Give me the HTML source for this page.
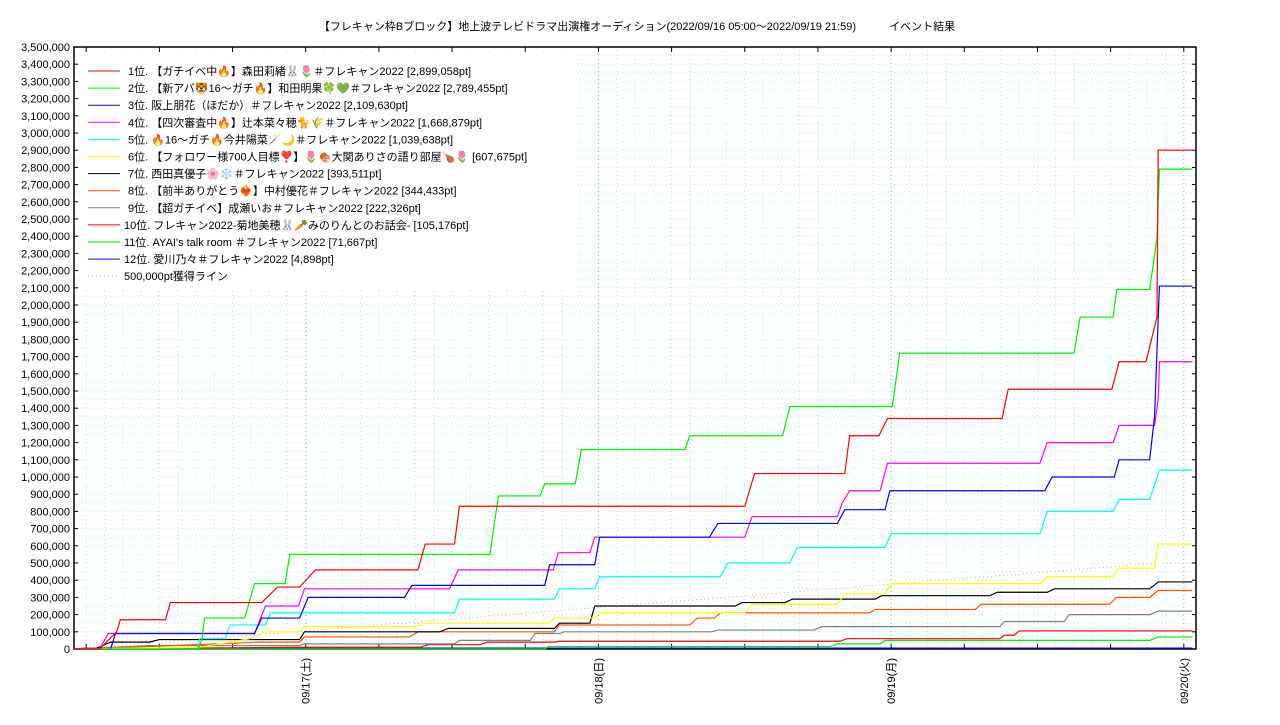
<!DOCTYPE html>
<html><head><meta charset="utf-8"><style>
body{margin:0;background:#fff;width:1280px;height:720px;overflow:hidden;font-family:"Liberation Sans","Noto Sans CJK JP",sans-serif}
svg text{font-family:"Liberation Sans","Noto Sans CJK JP",sans-serif}
</style></head><body>
<svg id="chart" width="1280" height="720" xmlns="http://www.w3.org/2000/svg"></svg>
<script>
// hours since 09/16 05:00, values in thousands of points
const seriesNames=["1位. 【ガチイベ中🔥】森田莉緒🐰🌷＃フレキャン2022 [2,899,058pt]","2位. 【新アバ🐯16〜ガチ🔥】和田明果🍀💚＃フレキャン2022 [2,789,455pt]","3位. 阪上朋花（ほだか）＃フレキャン2022 [2,109,630pt]","4位. 【四次審査中🔥】辻本菜々穂🐈🌾＃フレキャン2022 [1,668,879pt]","5位. 🔥16〜ガチ🔥今井陽菜🪄🌙＃フレキャン2022 [1,039,638pt]","6位. 【フォロワー様700人目標❣️】🌷🍖大関ありさの語り部屋🍗🌷 [607,675pt]","7位. 西田真優子🌸❄️＃フレキャン2022 [393,511pt]","8位. 【前半ありがとう❤️‍🔥】中村優花＃フレキャン2022 [344,433pt]","9位. 【超ガチイベ】成瀬いお＃フレキャン2022 [222,326pt]","10位. フレキャン2022-菊地美穂🐰🥕みのりんとのお話会- [105,176pt]","11位. AYAI's talk room ＃フレキャン2022 [71,667pt]","12位. 愛川乃々＃フレキャン2022 [4,898pt]"];
const seriesColors=["#ff0000","#00ee00","#0000ff","#ff00ff","#00ffff","#ffff00","#000000","#ff5000","#808080","#ff0000","#00ee00","#0000ff"];
const s1H=[0,2.1,3.5,3.8,7.5,7.9,15.4,16.7,18.5,19.8,28.2,28.8,31.2,31.6,55,55.8,63.2,63.6,66,66.7,76.1,76.6,85.1,85.7,87.9,88.8,88.9,91.7];
const s1V=[0,0,100,170,170,270,270,360,360,460,460,610,610,830,830,1020,1020,1240,1240,1340,1340,1510,1510,1670,1670,1930,2900,2900];
const s2H=[0,10.2,10.5,10.7,14,14.8,17.3,17.7,34.1,34.8,38.2,38.6,41.1,41.6,50.1,50.5,58.1,58.7,67.1,67.7,82,82.5,85.2,85.5,88.2,88.8,89,91.7];
const s2V=[0,0,60,180,180,380,380,550,550,890,890,960,960,1160,1160,1240,1240,1410,1410,1720,1720,1930,1930,2090,2090,2390,2790,2790];
const s3H=[0,3,3.4,14.8,15.4,18.5,19.2,27.1,27.7,38.6,39,42.7,43.1,52.1,52.8,62.6,63.2,66.5,66.9,79.6,80.2,85.3,85.7,88.2,88.6,89,91.7];
const s3V=[0,0,90,90,180,180,300,300,370,370,490,490,650,650,730,730,810,810,920,920,1000,1000,1100,1100,1350,2110,2110];
const s4H=[0,2.1,2.8,14.8,15.7,18.4,18.9,30.8,31.5,39.3,39.7,42.3,42.7,55,55.6,62.6,63,63.6,66.1,66.7,79.2,79.8,85.2,85.7,88.6,88.9,89,91.7];
const s4V=[0,0,90,90,250,250,350,350,460,460,560,560,650,650,770,770,850,920,920,1080,1080,1200,1200,1300,1300,1450,1670,1670];
const s5H=[0,10.1,10.3,12.4,12.8,15.7,16.1,31.2,31.6,39.4,39.8,42.7,43.1,53,53.6,58.7,59.3,66.5,67,79.2,79.8,85.2,85.7,88.2,89,91.7];
const s5V=[0,0,60,60,140,140,210,210,290,290,350,350,420,420,500,500,590,590,670,670,800,800,870,870,1040,1040];
const s6H=[0,10.3,14.4,15.7,18.5,18.9,28,28.8,38.9,39.4,42.7,43.1,55,55.6,62.6,63.2,66.5,67,79.2,79.8,85.2,85.7,88.6,88.9,91.7];
const s6V=[0,10,60,100,100,130,130,150,150,180,180,210,210,260,260,320,320,380,380,420,420,470,470,610,610];
const s7H=[0,1.7,3,6.2,7,18.5,18.9,30,30.7,39.4,39.8,42.3,42.7,54.2,54.8,58.3,58.9,65.7,66.2,75.1,75.7,79.8,80.4,88.2,88.9,91.7];
const s7V=[0,0,40,40,55,55,100,100,120,120,150,150,250,250,270,270,290,290,310,310,330,330,350,350,390,390];
const s8H=[0,4.6,15.2,18.5,18.9,27.5,28.2,39.4,39.8,50.5,51.1,52.5,53,65.2,65.7,73.9,74.4,84.9,85.5,88.2,88.9,91.7];
const s8V=[0,10,40,40,70,70,100,100,140,140,180,180,210,210,230,230,260,260,300,300,340,340];
const s9H=[0,6.2,18.5,18.9,31.2,31.6,37.4,37.8,39.8,40.2,52.3,52.8,60.7,61.3,75.9,76.3,81.2,81.6,88.2,88.9,91.7];
const s9V=[0,20,20,30,30,50,50,90,90,100,100,110,110,130,130,160,160,200,200,220,220];
const s10H=[0,17.7,28.4,29,33.3,33.9,39.4,39.8,62.8,63.4,75.9,76.3,77.1,77.5,91.7];
const s10V=[0,10,10,25,25,40,40,45,45,60,60,80,80,105,105];
const s11H=[0,38.6,38.9,62,62.6,66.1,66.5,88.2,88.9,91.7];
const s11V=[0,0,15,15,30,30,50,50,70,70];
const s12H=[0,1,91.7];
const s12V=[0,5,5];
const lineH=[0,89,91.7];
const lineV=[0,500,500];
const yTicks=[0,100,200,300,400,500,600,700,800,900,1000,1100,1200,1300,1400,1500,1600,1700,1800,1900,2000,2100,2200,2300,2400,2500,2600,2700,2800,2900,3000,3100,3200,3300,3400,3500];
const xTickHours=[19,43,67,91];
const xTickLabels=["09/17(土)","09/18(日)","09/19(月)","09/20(火)"];

const NS="http://www.w3.org/2000/svg";
const svg=document.getElementById('chart');
const L=74,R=1196,T=47,B=649,HMAX=92,VMAX=3500;
const xs=h=>L+h/HMAX*(R-L);
const ys=v=>B-v/VMAX*(B-T);
function mk(tag,attrs,parent){const e=document.createElementNS(NS,tag);for(const k in attrs)e.setAttribute(k,attrs[k]);(parent||svg).appendChild(e);return e;}

const title=mk('text',{x:637,y:30,'font-size':11,'text-anchor':'middle',fill:'#000'});


title.textContent="【フレキャン枠Bブロック】地上波テレビドラマ出演権オーディション(2022/09/16 05:00〜2022/09/19 21:59)　　　イベント結果";

const grid=mk('g',{});


for(let v=50;v<VMAX;v+=50){mk('line',{x1:L,x2:R,y1:ys(v),y2:ys(v),stroke:'#aee',  'stroke-dasharray':'1,3','stroke-width':1},grid);}
for(let h=1;h<HMAX;h+=1.5){mk('line',{x1:xs(h),x2:xs(h),y1:T,y2:B,stroke:'#aee','stroke-dasharray':'1,3','stroke-width':1},grid);}
for(const h of xTickHours){mk('line',{x1:xs(h),x2:xs(h),y1:T,y2:B,stroke:'#7d7','stroke-dasharray':'1,3','stroke-width':1},grid);}

const frame=mk('rect',{x:L,y:T,width:R-L,height:B-T,fill:'none',stroke:'#000','stroke-width':1.5});



const yax=mk('g',{});


for(const t of yTicks){
  const y=ys(t);
  mk('line',{x1:L,x2:L+4,y1:y,y2:y,stroke:'#000'},yax);
  mk('line',{x1:R,x2:R-4,y1:y,y2:y,stroke:'#000'},yax);
  const tx=mk('text',{x:70,y:y+4,'font-size':11,'text-anchor':'end',fill:'#000'},yax);
  
  
  tx.textContent=(t*1000).toLocaleString('en-US');
}
const xax=mk('g',{});


for(let h=1;h<HMAX;h+=6){mk('line',{x1:xs(h),x2:xs(h),y1:B,y2:B-5,stroke:'#000'},xax);mk('line',{x1:xs(h),x2:xs(h),y1:T,y2:T+5,stroke:'#000'},xax);}
xTickHours.forEach((h,i)=>{
  const x=xs(h);
  const tx=mk('text',{x:0,y:0,'font-size':11,'text-anchor':'end',fill:'#000',transform:`translate(${x+4},658) rotate(-90)`},xax);
  
  
  tx.textContent=xTickLabels[i];
});

const allH=[s1H,s2H,s3H,s4H,s5H,s6H,s7H,s8H,s9H,s10H,s11H,s12H];
const allV=[s1V,s2V,s3V,s4V,s5V,s6V,s7V,s8V,s9V,s10V,s11V,s12V];
const pl=mk('polyline',{points:lineH.map((h,i)=>xs(h)+','+ys(lineV[i])).join(' '),fill:'none',stroke:'#f99','stroke-dasharray':'1,3','stroke-width':1});


for(let s=allH.length-1;s>=0;s--){
  const p=mk('polyline',{points:allH[s].map((h,i)=>xs(h)+','+ys(allV[s][i])).join(' '),fill:'none',stroke:seriesColors[s],'stroke-width':1.2});
  
  
}

const lg=mk('g',{});


mk('rect',{x:80,y:55,width:495,height:235,fill:'#fff'},lg);
const names=seriesNames.concat(["500,000pt獲得ライン"]);
names.forEach((n,i)=>{
  const y=71+i*17.1;
  const e=mk('g',{},lg);
  
  
  mk('line',{x1:88,x2:120,y1:y,y2:y,stroke:i<12?seriesColors[i]:'#f99','stroke-width':1,'stroke-dasharray':i<12?'none':'1,3'},e);
  const t=mk('text',{x:i<9?128:124,y:y+4,'font-size':11,fill:'#000'},e);
  t.textContent=n;
});
</script>
</body></html>
